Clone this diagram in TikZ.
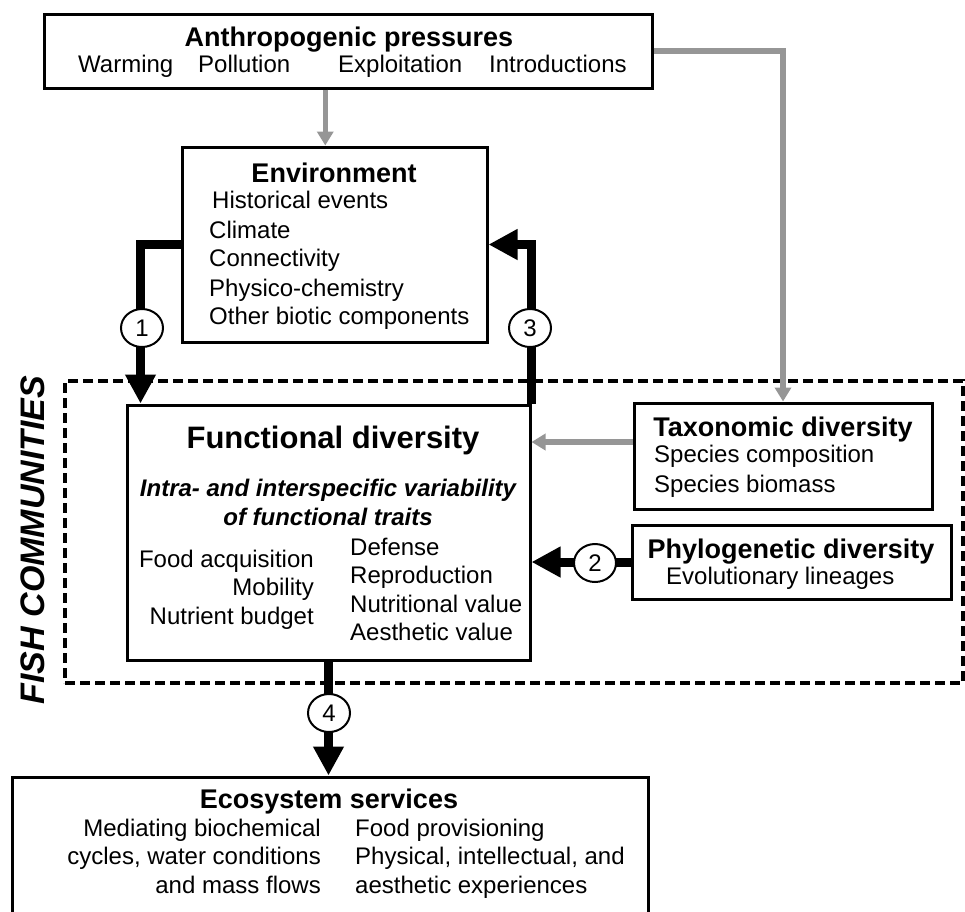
\documentclass[tikz,border=0pt]{standalone}
\usepackage{fontspec}
\setmainfont{Liberation Sans}
\usetikzlibrary{arrows.meta,positioning,calc,shapes.geometric}
\definecolor{arrowgrey}{RGB}{150,150,150}
\newcommand{\sizept}[1]{\fontsize{#1}{#1}\selectfont}
\tikzset{
	box/.style={draw,line width=3pt,fill=white,inner sep=0pt},
	fishframe/.style={draw,line width=4pt,dash pattern=on 10pt off 5pt,inner sep=0pt},
	boxtitle/.style={font=\sizept{27}\bfseries,inner sep=0pt},
	bigtitle/.style={font=\sizept{31}\bfseries,inner sep=0pt},
	itemtxt/.style={font=\sizept{24},inner sep=0pt},
	subtxt/.style={font=\sizept{24}\bfseries\itshape,inner sep=0pt},
	fishtxt/.style={font=\sizept{34}\bfseries\itshape,inner sep=0pt},
	numcirc/.style={ellipse,draw,line width=2pt,fill=white,minimum width=42pt,minimum height=38pt,inner sep=0pt,font=\sizept{24}},
	bigarrow/.style={-{Triangle[length=29pt,width=29pt]},line width=9pt},
	greyarrow/.style={-{Triangle[length=14pt,width=16pt]},line width=5.5pt,color=arrowgrey}
}
\begin{document}
\begin{tikzpicture}[x=1pt,y=-1pt]
	\useasboundingbox (0,0) rectangle (965,911);

	%%Fish communities frame
	\node[fishframe,minimum width=898pt,minimum height=302pt] (fish) at (514,532) {};
	\node[fishtxt,rotate=90] (fishlbl) at (33,540) {FISH COMMUNITIES};

	%%Anthropogenic pressures
	\node[box,minimum width=608pt,minimum height=74pt] (anthro) at (348,51) {};
	\node[boxtitle] (anthrot) at (349,40) {Anthropogenic pressures};
	\node[itemtxt,anchor=mid west] (warm) at (78,70) {Warming};
	\node[itemtxt,anchor=mid west] (poll) at (198,70) {Pollution};
	\node[itemtxt,anchor=mid west] (expl) at (338,70) {Exploitation};
	\node[itemtxt,anchor=mid west] (intro) at (489,70) {Introductions};

	%%Environment
	\node[box,minimum width=305pt,minimum height=195pt] (env) at (334.5,244.5) {};
	\node[boxtitle] (envt) at (334,173) {Environment};
	\node[itemtxt,anchor=mid west] (hist) at (212,206) {Historical events};
	\node[itemtxt,anchor=mid west] (clim) at (209,236) {Climate};
	\node[itemtxt,anchor=mid west] (conn) at (209,264) {Connectivity};
	\node[itemtxt,anchor=mid west] (phys) at (209,294) {Physico-chemistry};
	\node[itemtxt,anchor=mid west] (biot) at (209,322) {Other biotic components};

	%%Functional diversity
	\node[box,minimum width=403pt,minimum height=255pt] (func) at (328.5,532.5) {};
	\node[bigtitle] (funct) at (333,440) {Functional diversity};
	\node[subtxt] (intra) at (328,490) {Intra- and interspecific variability};
	\node[subtxt] (oftraits) at (328,517) {of functional traits};
	\node[itemtxt,anchor=mid east] (food) at (314,565) {Food acquisition};
	\node[itemtxt,anchor=mid east] (mobi) at (314,593) {Mobility};
	\node[itemtxt,anchor=mid east] (budg) at (314,622) {Nutrient budget};
	\node[itemtxt,anchor=mid west] (defe) at (350,553) {Defense};
	\node[itemtxt,anchor=mid west] (repr) at (350,581) {Reproduction};
	\node[itemtxt,anchor=mid west] (nutv) at (350,610) {Nutritional value};
	\node[itemtxt,anchor=mid west] (aesv) at (350,638) {Aesthetic value};

	%%Taxonomic diversity
	\node[box,minimum width=298pt,minimum height=106pt] (taxo) at (783,456) {};
	\node[boxtitle] (taxot) at (783,430) {Taxonomic diversity};
	\node[itemtxt,anchor=mid west] (scomp) at (654,460) {Species composition};
	\node[itemtxt,anchor=mid west] (sbio) at (654,490) {Species biomass};

	%%Phylogenetic diversity
	\node[box,minimum width=319pt,minimum height=74pt] (phylo) at (791.5,562) {};
	\node[boxtitle] (phylot) at (791,552) {Phylogenetic diversity};
	\node[itemtxt,anchor=mid west] (evol) at (666,582) {Evolutionary lineages};

	%%Ecosystem services
	\node[box,minimum width=636pt,minimum height=139pt] (eco) at (330,846.5) {};
	\node[boxtitle] (ecot) at (329,802) {Ecosystem services};
	\node[itemtxt,anchor=mid east] (medi) at (321,834) {Mediating biochemical};
	\node[itemtxt,anchor=mid east] (cycl) at (321,862) {cycles, water conditions};
	\node[itemtxt,anchor=mid east] (mass) at (321,891) {and mass flows};
	\node[itemtxt,anchor=mid west] (prov) at (355,834) {Food provisioning};
	\node[itemtxt,anchor=mid west] (phyi) at (355,862) {Physical, intellectual, and};
	\node[itemtxt,anchor=mid west] (aesx) at (355,891) {aesthetic experiences};

	%%grey arrows from pressures and taxonomy
	\coordinate (envin) at ($(env.north west)!0.47!(env.north east)$);
	\coordinate (taxout) at ($(taxo.west)+(0,-14)$);
	\draw[greyarrow] (envin |- anthro.south) -- (envin);
	\draw[greyarrow] (anthro.east) -| (taxo.north);
	\draw[greyarrow] (taxout) -- (taxout -| func.east);

	%%black arrows 1--4
	\coordinate (funcin) at ($(func.north west)+(15,0)$);
	\draw[bigarrow] (env.west) -| (funcin);
	\draw[bigarrow] (func.north east) |- (env.east);
	\draw[bigarrow] (phylo.west) -- (phylo.west -| func.east);
	\draw[bigarrow] (func.south) -- (func.south |- eco.north);

	\node[numcirc] (n1) at (142,328) {1};
	\node[numcirc] (n3) at (530,328) {3};
	\node[numcirc] (n2) at (595,563) {2};
	\node[numcirc] (n4) at (329,713) {4};
\end{tikzpicture}
\end{document}
